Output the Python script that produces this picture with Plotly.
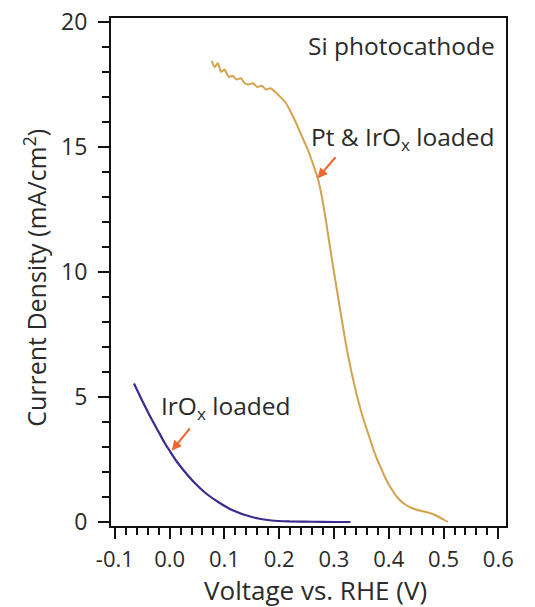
import plotly.graph_objects as go

# Pt & IrOx loaded (gold)
pt_v = [0.077, 0.082, 0.088, 0.094, 0.100, 0.108, 0.115, 0.122, 0.130, 0.137, 0.144, 0.152, 0.160, 0.168,
        0.176, 0.184, 0.193, 0.202, 0.211, 0.220, 0.229, 0.238, 0.246, 0.254, 0.262, 0.271,
        0.278, 0.285, 0.292, 0.300, 0.306, 0.312, 0.318, 0.324, 0.330, 0.336, 0.342, 0.348,
        0.354, 0.360, 0.366, 0.372, 0.379, 0.386, 0.393, 0.400, 0.408, 0.415, 0.423, 0.430, 0.440,
        0.450, 0.460, 0.470, 0.480, 0.490, 0.500, 0.508]
pt_j = [18.45, 18.2, 18.35, 18.0, 18.1, 17.8, 17.85, 17.7, 17.75, 17.55, 17.5, 17.55, 17.4, 17.45,
        17.3, 17.35, 17.2, 17.0, 16.8, 16.45, 16.05, 15.6, 15.2, 14.8, 14.3, 13.7,
        13.0, 12.1, 11.1, 10.0, 9.2, 8.4, 7.6, 6.85, 6.2, 5.6, 5.05, 4.55,
        4.1, 3.7, 3.3, 2.9, 2.5, 2.15, 1.8, 1.5, 1.22, 1.0, 0.82, 0.7, 0.58,
        0.5, 0.44, 0.39, 0.32, 0.22, 0.1, 0.0]

# IrOx loaded (blue)
ir_v = [-0.065, -0.050, -0.035, -0.020, -0.010, 0.000, 0.012, 0.025, 0.045, 0.066, 0.090, 0.114, 0.150,
        0.186, 0.220, 0.260, 0.300, 0.330]
ir_j = [5.54, 4.85, 4.2, 3.6, 3.2, 2.85, 2.45, 2.08, 1.58, 1.15, 0.78, 0.48, 0.2,
        0.06, 0.02, 0.01, 0.0, 0.0]

x_ticks = [-0.1, 0.0, 0.1, 0.2, 0.3, 0.4, 0.5, 0.6]
x_labels = ["-0.1", "0.0", "0.1", "0.2", "0.3", "0.4", "0.5", "0.6"]
y_ticks = [0, 5, 10, 15, 20]

font = "Open Sans, sans-serif"
txt = "#2a2a2a"
fig = go.Figure()
fig.add_trace(go.Scatter(x=pt_v, y=pt_j, mode="lines",
                         line=dict(color="#d4a24e", width=2, shape="spline", smoothing=0.6),
                         showlegend=False))
fig.add_trace(go.Scatter(x=ir_v, y=ir_j, mode="lines",
                         line=dict(color="#3b2b8e", width=2.2, shape="spline", smoothing=0.8),
                         showlegend=False))

arrow_col = "#ee6630"
fig.add_annotation(x=0.270, y=13.75, ax=0.305, ay=14.65, axref="x", ayref="y", xref="x", yref="y",
                   text="", showarrow=True, arrowhead=2, arrowsize=1, arrowwidth=2, arrowcolor=arrow_col)
fig.add_annotation(x=0.004, y=2.85, ax=0.039, ay=3.8, axref="x", ayref="y", xref="x", yref="y",
                   text="", showarrow=True, arrowhead=2, arrowsize=1, arrowwidth=2, arrowcolor=arrow_col)

ann_size = 24.5
fig.add_annotation(x=0.597, y=19.05, xref="x", yref="y", text="Si photocathode", showarrow=False,
                   xanchor="right", yanchor="middle", font=dict(size=ann_size, color=txt, family=font))
fig.add_annotation(x=0.597, y=15.35, xref="x", yref="y", text="Pt &amp; IrO<sub>x</sub> loaded",
                   showarrow=False, xanchor="right", yanchor="middle",
                   font=dict(size=ann_size, color=txt, family=font))
fig.add_annotation(x=-0.019, y=4.6, xref="x", yref="y", text="IrO<sub>x</sub> loaded",
                   showarrow=False, xanchor="left", yanchor="middle",
                   font=dict(size=ann_size, color=txt, family=font))

# axis titles placed as paper-anchored annotations
fig.add_annotation(x=0.518, y=-0.125, xref="paper", yref="paper", text="Voltage vs. RHE (V)",
                   showarrow=False, xanchor="center", yanchor="middle",
                   font=dict(size=26, color=txt, family=font))
fig.add_annotation(x=-0.193, y=0.488, xref="paper", yref="paper",
                   text="Current Density (mA/cm<sup>2</sup>)", textangle=-90,
                   showarrow=False, xanchor="center", yanchor="middle",
                   font=dict(size=25, color=txt, family=font))

fig.update_layout(
    width=535, height=607,
    margin=dict(l=111, r=29, t=18, b=81),
    paper_bgcolor="white", plot_bgcolor="white",
    font=dict(family=font, size=22, color=txt),
    xaxis=dict(range=[-0.107, 0.614], tickvals=x_ticks, ticktext=x_labels,
               ticks="outside", ticklen=11, tickwidth=2, tickcolor="#111",
               minor=dict(dtick=0.02, tick0=0, ticks="outside", ticklen=7, tickwidth=1.5, tickcolor="#111"),
               showline=True, linecolor="#111", linewidth=2, mirror=True, showgrid=False, zeroline=False,
               automargin=False, ticklabelstandoff=2,
               tickfont=dict(size=22)),
    yaxis=dict(range=[-0.16, 20.16], tickvals=y_ticks,
               ticks="outside", ticklen=11, tickwidth=2, tickcolor="#111",
               minor=dict(dtick=1, tick0=0, ticks="outside", ticklen=7, tickwidth=1.5, tickcolor="#111"),
               showline=True, linecolor="#111", linewidth=2, mirror=True, showgrid=False, zeroline=False,
               automargin=False, ticklabelstandoff=6,
               tickfont=dict(size=23)),
)
fig.write_html("out.html")
